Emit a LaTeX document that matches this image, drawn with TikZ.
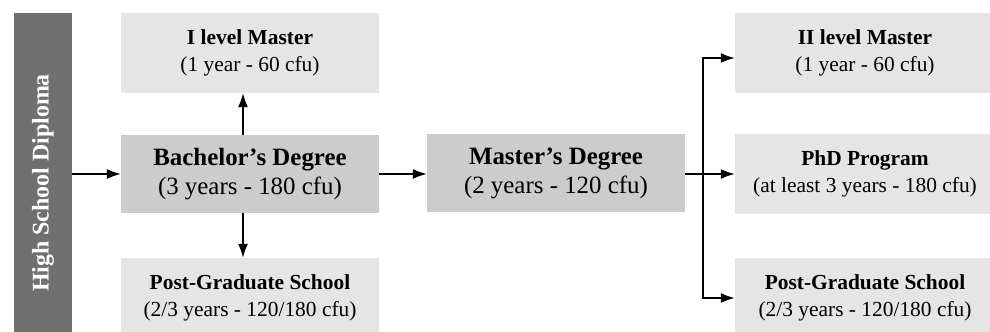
\documentclass[tikz,border=0pt]{standalone}
\usepackage{fontspec}
\setmainfont{Liberation Serif}
\usetikzlibrary{arrows.meta}
\definecolor{barcol}{RGB}{112,112,112}
\definecolor{boxlight}{RGB}{229,229,229}
\definecolor{boxdark}{RGB}{204,204,204}
\begin{document}
\begin{tikzpicture}[x=1bp,y=-1bp]
	\tikzset{box/.style={fill=boxlight, minimum width=258bp, minimum height=80bp, inner sep=0pt, align=center, font=\fontsize{21.5}{27}\selectfont},
	bigbox/.style={box, fill=boxdark, minimum height=78bp, font=\fontsize{25}{29}\selectfont},
	arr/.style={-{Latex[length=14bp,width=10bp]}, line width=1.6bp}};
	\clip (0,0) rectangle (990,331);
	\node[fill=barcol, text=white, rotate=90, minimum width=340bp, minimum height=58bp, inner sep=0pt, font=\fontsize{24}{28}\selectfont\bfseries] (hs) at (43,183) {High School Diploma};

	\node[bigbox] (bach) at (250,174) {\textbf{Bachelor’s Degree}\\(3 years - 180 cfu)};
	\node[bigbox] (mast) at (556,173) {\textbf{Master’s Degree}\\(2 years - 120 cfu)};
	\node[box] (ilev) at (250,53) {\textbf{I level Master}\\(1 year - 60 cfu)};
	\node[box] (pgs1) at (250,298) {\textbf{Post-Graduate School}\\(2/3 years - 120/180 cfu)};
	\foreach \y/\nm/\ti/\tx in {53/iilev/II level Master/{(1 year - 60 cfu)},
	174/phd/PhD Program/{(at least 3 years - 180 cfu)}, 298/pgs2/Post-Graduate School/{(2/3 years - 120/180 cfu)}}{
		\node[box, minimum width=260bp] (\nm) at (865,\y) {\textbf{\ti}\\\tx};
	}
	\coordinate (split) at (703,174);

	\draw[arr] (hs.south |- bach.west) -- (bach.west);
	\draw[arr] ([xshift=-7bp]bach.north) -- ([xshift=-7bp]ilev.south);
	\draw[arr] ([xshift=-7bp]bach.south) -- ([xshift=-7bp]pgs1.north);
	\draw[arr] (bach.east) -- (mast.west |- bach.east);
	\draw[arr] (mast.east |- phd.west) -- (phd.west);
	\draw[arr] (split) |- ([yshift=-5bp]iilev.west);
	\draw[arr] (split) |- (pgs2.west);
\end{tikzpicture}
\end{document}
